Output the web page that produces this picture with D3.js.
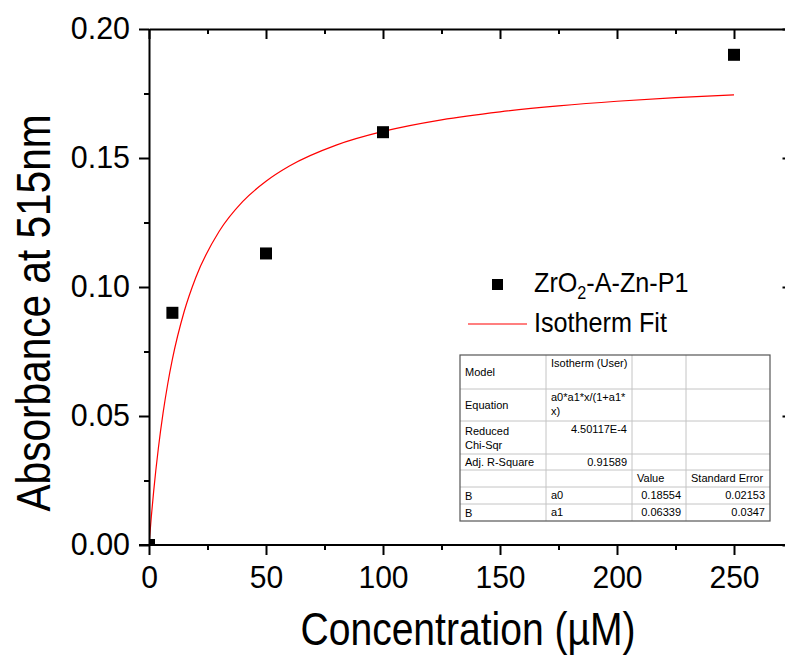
<!DOCTYPE html>
<html>
<head>
<meta charset="utf-8">
<script src="https://cdn.jsdelivr.net/npm/d3@7"></script>
<style>
  html,body{margin:0;padding:0;background:#fff;}
  svg{display:block;font-family:"Liberation Sans",Arial,sans-serif;}
</style>
</head>
<body>
<div id="chart"></div>
<script>
/* ---------- DATA ---------- */
const CONC=[0,10,50,100,250];                       /* µM */
const ABS=[0.000,0.090,0.113,0.160,0.190];          /* absorbance at 515 nm */
/* fitted isotherm */
const FIT_X=[0,1,2,4,6,8,10,15,20,30,40,50,60,80,100,125,150,175,200,225,250];
const FIT_Y=[0,0.0111,0.0209,0.0375,0.0511,0.0624,0.0720,0.0904,0.1037,0.1216,0.1331,
             0.1410,0.1469,0.1550,0.1603,0.1648,0.1679,0.1702,0.1720,0.1734,0.1745];
const X_MAJOR=[0,50,100,150,200,250];
const X_MINOR=[25,75,125,175,225,275];
const Y_MAJOR=[0,0.05,0.10,0.15,0.20];
const Y_MINOR=[0.025,0.075,0.125,0.175];
const LEGEND=["ZrO2-A-Zn-P1","Isotherm Fit"];
const TABLE=[
  ["Model","Isotherm (User)","",""],
  ["Equation","a0*a1*x/(1+a1*\nx)","",""],
  ["Reduced\nChi-Sqr","4.50117E-4","",""],
  ["Adj. R-Square","0.91589","",""],
  ["","","Value","Standard Error"],
  ["B","a0","0.18554","0.02153"],
  ["B","a1","0.06339","0.0347"]
];

/* ---------- LAYOUT ---------- */
const W=785,H=656;
const PL=149,PT=29,PB=545,PR=792.5;
const TCOL=[460,546,632,686,770];
const TROW=[355,389,421,454,470,487,504,521];

const svg=d3.select("#chart").append("svg").attr("width",W).attr("height",H);

const x=d3.scaleLinear().domain([0,275]).range([PL,PR]);
const y=d3.scaleLinear().domain([0,0.2]).range([PB,PT]);

/* shrink text horizontally like the original export */
function squeeze(sel,k){
  sel.each(function(){
    const w=this.getComputedTextLength();
    d3.select(this).attr("textLength",w*k).attr("lengthAdjust","spacingAndGlyphs");
  });
}
function style(g){
  g.select(".domain").attr("stroke","#000").attr("stroke-width",2);
  g.selectAll(".tick line").attr("stroke","#000").attr("stroke-width",2);
  g.selectAll("text").attr("fill","#000");
}

/* ---------- DATA LAYER (clipped) ---------- */
svg.append("defs").append("clipPath").attr("id","plotclip")
  .append("rect").attr("x",PL).attr("y",PT).attr("width",PR-PL).attr("height",PB-PT);
const plot=svg.append("g").attr("clip-path","url(#plotclip)");

plot.append("path")
  .datum(FIT_X.map((v,i)=>[v,FIT_Y[i]]))
  .attr("fill","none").attr("stroke","#ff0000").attr("stroke-width",1.2)
  .attr("d",d3.line().x(d=>x(d[0])).y(d=>y(d[1])).curve(d3.curveMonotoneX));

const MS=12;
plot.selectAll("rect.pt").data(CONC.map((c,i)=>[c,ABS[i]])).enter()
  .append("rect").attr("class","pt")
  .attr("x",d=>x(d[0])-MS/2).attr("y",d=>y(d[1])-MS/2)
  .attr("width",MS).attr("height",MS).attr("fill","#000");

/* ---------- AXES ---------- */
const gl=svg.append("g").attr("transform",`translate(${PL},0)`);
gl.call(d3.axisLeft(y).tickValues(Y_MAJOR).tickSize(10).tickSizeOuter(0).tickPadding(9)
        .tickFormat(d3.format(".2f")));
gl.selectAll("text").style("font-size","31px");
squeeze(gl.selectAll("text"),0.98);
gl.append("g").call(d3.axisLeft(y).tickValues(Y_MINOR).tickSize(5).tickFormat(""))
  .call(g=>g.select(".domain").remove());
style(gl);

const gb=svg.append("g").attr("transform",`translate(0,${PB})`);
gb.call(d3.axisBottom(x).tickValues(X_MAJOR).tickSize(10).tickSizeOuter(0).tickPadding(11));
gb.selectAll("text").style("font-size","31px");
squeeze(gb.selectAll("text"),0.97);
gb.append("g").call(d3.axisBottom(x).tickValues(X_MINOR).tickSize(5).tickFormat(""))
  .call(g=>g.select(".domain").remove());
gb.select(".domain").attr("d",`M${PL-10},0H${PR}`);
style(gb);

const gt=svg.append("g").attr("transform",`translate(0,${PT})`);
gt.call(d3.axisTop(x).tickValues(X_MAJOR).tickSize(-10).tickSizeOuter(0).tickFormat(""));
gt.append("g").call(d3.axisTop(x).tickValues(X_MINOR).tickSize(-5).tickFormat(""))
  .call(g=>g.select(".domain").remove());
style(gt);

const gr=svg.append("g").attr("transform",`translate(${PR},0)`);
gr.call(d3.axisRight(y).tickValues(Y_MAJOR).tickSize(-10).tickSizeOuter(0).tickFormat(""));
gr.append("g").call(d3.axisRight(y).tickValues(Y_MINOR).tickSize(-5).tickFormat(""))
  .call(g=>g.select(".domain").remove());
style(gr);

/* ---------- TITLES ---------- */
svg.append("text").attr("x",468).attr("y",645).attr("text-anchor","middle")
  .style("font-size","47px").attr("textLength",335).attr("lengthAdjust","spacingAndGlyphs")
  .text("Concentration (\u00b5M)");
svg.append("text").attr("transform","translate(50,313) rotate(-90)").attr("text-anchor","middle")
  .style("font-size","48px").attr("textLength",397).attr("lengthAdjust","spacingAndGlyphs")
  .text("Absorbance at 515nm");

/* ---------- LEGEND ---------- */
const lg=svg.append("g");
lg.append("rect").attr("x",492).attr("y",279).attr("width",11).attr("height",11).attr("fill","#000");
const t1=lg.append("text").attr("transform","translate(534,292) scale(0.9,1)").style("font-size","28px");
t1.append("tspan").text(LEGEND[0].slice(0,3));
t1.append("tspan").attr("dy",7).style("font-size","18px").text(LEGEND[0].slice(3,4));
t1.append("tspan").attr("dy",-7).text(LEGEND[0].slice(4));
lg.append("line").attr("x1",468).attr("x2",527).attr("y1",324).attr("y2",324)
  .attr("stroke","#ff0000").attr("stroke-width",1.2);
lg.append("text").attr("transform","translate(534,332) scale(0.9,1)").style("font-size","28px")
  .text(LEGEND[1]);

/* ---------- FIT TABLE ---------- */
const tb=svg.append("g").style("font-size","11px");
tb.append("rect").attr("x",TCOL[0]).attr("y",TROW[0])
  .attr("width",TCOL[4]-TCOL[0]).attr("height",TROW[7]-TROW[0]).attr("fill","#fff");
TROW.slice(1,-1).forEach(r=>tb.append("line").attr("x1",TCOL[0]).attr("x2",TCOL[4])
  .attr("y1",r).attr("y2",r).attr("stroke","#c4c4c4"));
TCOL.slice(1,-1).forEach(c=>tb.append("line").attr("x1",c).attr("x2",c)
  .attr("y1",TROW[0]).attr("y2",TROW[7]).attr("stroke","#c4c4c4"));
tb.append("rect").attr("x",TCOL[0]).attr("y",TROW[0])
  .attr("width",TCOL[4]-TCOL[0]).attr("height",TROW[7]-TROW[0])
  .attr("fill","none").attr("stroke","#555").attr("stroke-width",1.2);

const isNum=s=>/^[0-9.E-]+$/.test(s)&&/[0-9]/.test(s)&&!/^a/.test(s);
TABLE.forEach((row,ri)=>{
  row.forEach((cell,ci)=>{
    if(!cell) return;
    const lines=cell.split("\n");
    const right=isNum(cell);
    const tx=right?TCOL[ci+1]-5:TCOL[ci]+5;
    const top=TROW[ri], bot=TROW[ri+1], lh=14;
    let y0;
    if(ci===0) y0=(top+bot)/2-(lines.length-1)*lh/2+4;
    else y0=top+12;
    const t=tb.append("text").attr("x",tx).attr("y",y0)
      .attr("text-anchor",right?"end":"start").attr("fill","#000");
    lines.forEach((l,li)=>t.append("tspan").attr("x",tx).attr("dy",li?lh:0).text(l));
  });
});
</script>
</body>
</html>
